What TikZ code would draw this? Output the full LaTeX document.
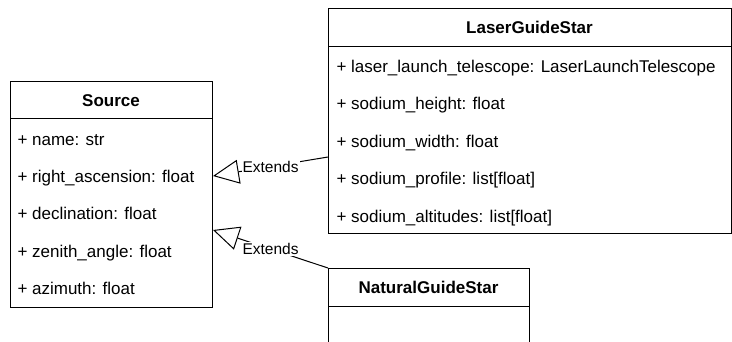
\documentclass[tikz,border=0pt]{standalone}
\usepackage{fontspec}
\setmainfont{Liberation Sans}
\usetikzlibrary{arrows.meta}
\begin{document}
\begin{tikzpicture}[x=1bp,y=-1bp,line width=1bp,
  clsbox/.style={draw=black,anchor=north west,inner sep=0pt},
  title/.style={anchor=base,inner sep=0pt,font=\bfseries\fontsize{17bp}{20bp}\selectfont},
  attr/.style={anchor=base west,inner sep=0pt,font=\fontsize{17bp}{20bp}\selectfont},
  ext/.style={draw=black,-{Triangle[open,length=26bp,width=24bp]}},
  lbl/.style={fill=white,inner sep=1bp,font=\fontsize{15.5bp}{18bp}\selectfont}]
\useasboundingbox (0,0) rectangle (732,341);
\clip (0,0) rectangle (732,341);
% Source
\node[clsbox,minimum width=202bp,minimum height=226bp] (src) at (10,81) {};
\node[clsbox,minimum width=202bp,minimum height=37bp] (srch) at (10,81) {};
\node[title] (srct) at (111,106) {Source};
\node[attr] (s1) at (17,145) {+ name: str};
\node[attr] (s2) at (17,182) {+ right\_ascension: float};
\node[attr] (s3) at (17,219.5) {+ declination: float};
\node[attr] (s4) at (17,257) {+ zenith\_angle: float};
\node[attr] (s5) at (17,294) {+ azimuth: float};
% LaserGuideStar
\node[clsbox,minimum width=403bp,minimum height=225bp] (lgs) at (328,8) {};
\node[clsbox,minimum width=403bp,minimum height=38bp] (lgsh) at (328,8) {};
\node[title] (lgst) at (529.5,33) {LaserGuideStar};
\node[attr] (l1) at (336,72) {+ laser\_launch\_telescope: LaserLaunchTelescope};
\node[attr] (l2) at (336,109.5) {+ sodium\_height: float};
\node[attr] (l3) at (336,147) {+ sodium\_width: float};
\node[attr] (l4) at (336,184.5) {+ sodium\_profile: list[float]};
\node[attr] (l5) at (336,222) {+ sodium\_altitudes: list[float]};
% NaturalGuideStar
\node[clsbox,minimum width=201bp,minimum height=100bp] (ngs) at (328,268) {};
\node[clsbox,minimum width=201bp,minimum height=38bp] (ngsh) at (328,268) {};
\node[title] (ngst) at (428.5,293) {NaturalGuideStar};
% Generalizations
\draw[ext] ([yshift=-149bp]lgs.north west) -- node[lbl] (e1) {Extends} ([yshift=-95bp]src.north east);
\draw[ext] (ngs.north west) -- node[lbl] (e2) {Extends} ([yshift=-149bp]src.north east);
\end{tikzpicture}
\end{document}
